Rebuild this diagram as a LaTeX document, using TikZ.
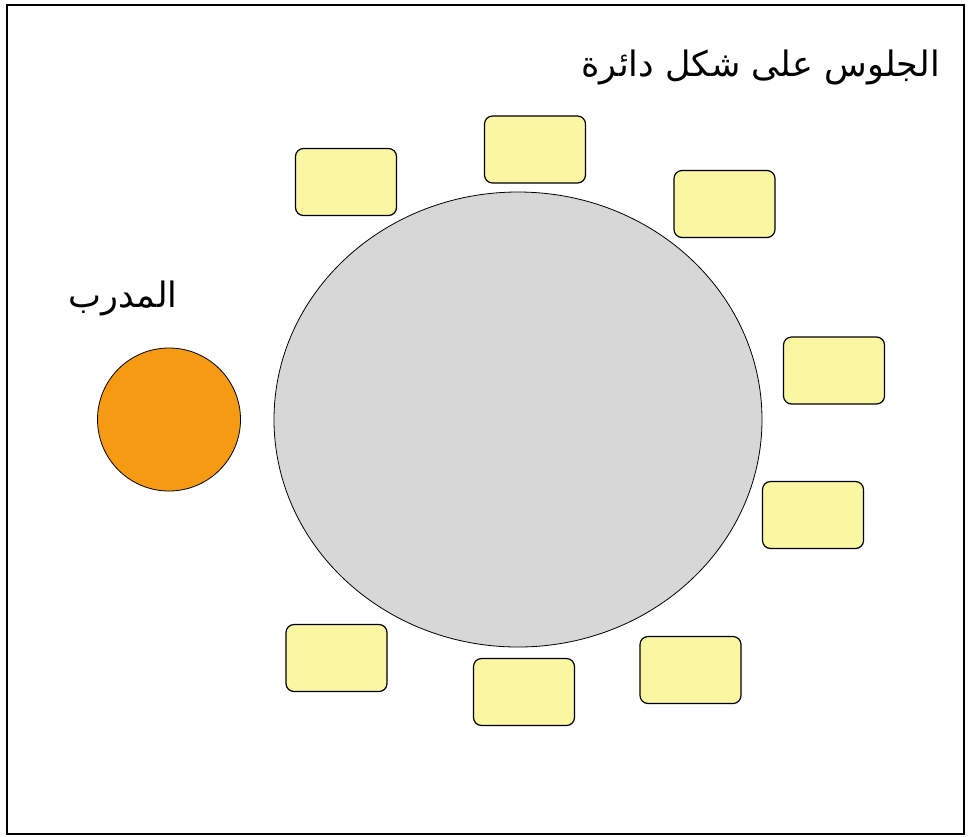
\documentclass[tikz,border=0pt]{standalone}
\usepackage{fontspec}
\usetikzlibrary{shapes.geometric}
\newfontfamily\arabicfont[Script=Arabic]{DejaVu Sans}
\TeXXeTstate=1
\definecolor{seatyellow}{RGB}{250,246,162}
\definecolor{tablegray}{RGB}{215,215,215}
\definecolor{trainerorange}{RGB}{246,154,20}
\tikzset{
  seat/.style={draw=black, line width=1.2pt, fill=seatyellow, rounded corners=8pt,
    minimum width=101pt, minimum height=67pt, inner sep=0pt},
  label/.style={font=\arabicfont\fontsize{35}{40}\selectfont, inner sep=0pt}
}
\begin{document}
\begin{tikzpicture}[x=1pt,y=-1pt]
\useasboundingbox (0,0) rectangle (968,836);
\node[draw=black, line width=1.5pt, minimum width=957pt, minimum height=829pt, inner sep=0pt] (frame) at (485.5,419.5) {};
\node[draw=black, line width=0.8pt, fill=tablegray, ellipse, minimum width=488pt, minimum height=455pt, inner sep=0pt] (table) at (518,419.5) {};
\node[draw=black, line width=0.8pt, fill=trainerorange, circle, minimum size=143pt, inner sep=0pt] (trainer) at (169,419.5) {};
\node[seat] (s1) at (346,182) {};
\node[seat] (s2) at (535,149.5) {};
\node[seat] (s3) at (724.5,204) {};
\node[seat] (s4) at (834,370.5) {};
\node[seat] (s5) at (813,515) {};
\node[seat] (s6) at (690.5,670) {};
\node[seat] (s7) at (524,692) {};
\node[seat] (s8) at (336.5,658) {};
\node[label, anchor=base east] (title) at (940,76) {\beginR الجلوس على شكل دائرة\endR};
\node[label, anchor=base] (trainerlabel) at (123,307) {\beginR المدرب\endR};
\end{tikzpicture}
\end{document}
